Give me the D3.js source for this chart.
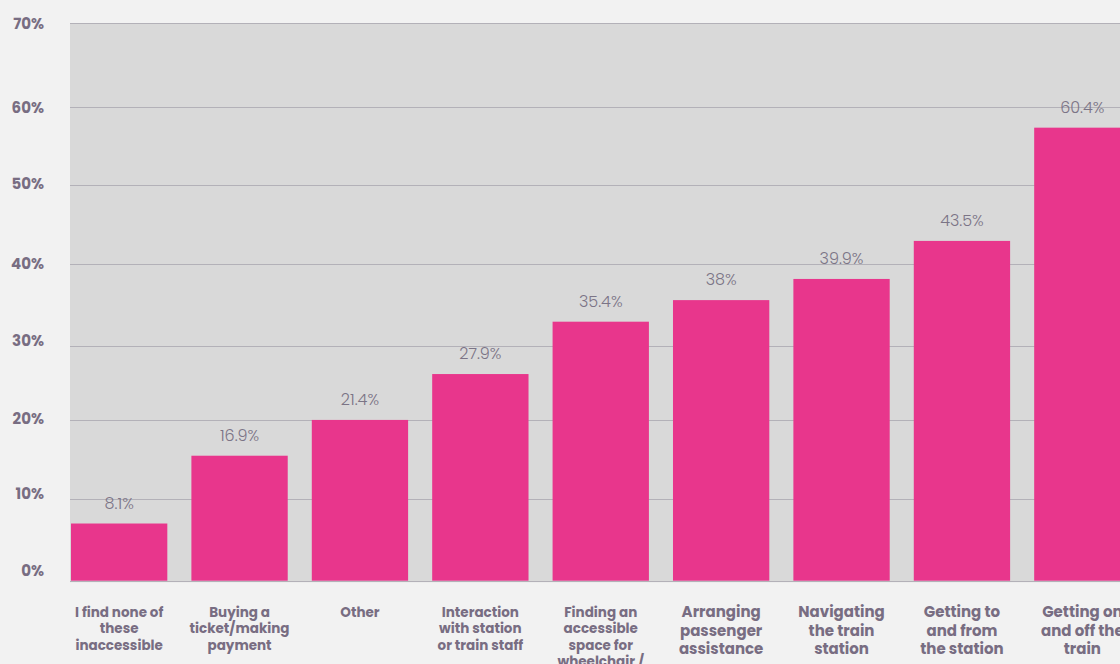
<!DOCTYPE html>
<html>
<head>
<meta charset="utf-8">
<script src="https://cdn.jsdelivr.net/npm/d3@7/dist/d3.min.js"></script>
<style>
  html, body { margin: 0; padding: 0; background: #f2f2f2; overflow: hidden; }
  svg { display: block; }
</style>
</head>
<body>
<svg id="chart" width="1120" height="664"></svg>
<script>
// ---- data ----
const categories = [
  "I find none of\nthese\ninaccessible",
  "Buying a\nticket/making\npayment",
  "Other",
  "Interaction\nwith station\nor train staff",
  "Finding an\naccessible\nspace for\nwheelchair /",
  "Arranging\npassenger\nassistance",
  "Navigating\nthe train\nstation",
  "Getting to\nand from\nthe station",
  "Getting on\nand off the\ntrain"
];
// bar heights as read against the gridlines of the picture
const barValues = [7.0, 15.5, 20.05, 26.2, 32.95, 35.6, 38.2, 42.95, 57.35];
// value labels printed above the bars
const valueLabels = ["8.1%", "16.9%", "21.4%", "27.9%", "35.4%", "38%", "39.9%", "43.5%", "60.4%"];
const yTicks = [0, 10, 20, 30, 40, 50, 60, 70];
const yTickLabels = ["0%", "10%", "20%", "30%", "40%", "50%", "60%", "70%"];

// ---- drawing ----
const svg = d3.select("#chart");
const W = 1120, H = 664;
const plotLeft = 70;

// the gridlines of the original are not evenly spaced: piecewise linear scale
const y = d3.scaleLinear().domain(yTicks)
  .range([580.7, 499, 420.3, 345.7, 264.3, 185, 107, 23]);
const yLab = d3.scaleLinear().domain(yTicks)
  .range([570, 493.7, 418.3, 340.5, 263.3, 183.3, 107.2, 23]);
const x = d3.scaleBand().domain(categories).range([71, 1130.5]).paddingInner(0.2).paddingOuter(0);

const font = "Poppins, 'Open Sans', sans-serif";
const textColor = "#786d82";

// plot background
svg.append("rect")
  .attr("x", plotLeft).attr("y", y(70))
  .attr("width", W - plotLeft + 20).attr("height", y(0) - y(70) + 1.5)
  .attr("fill", "#d9d9d9");

// gridlines
svg.append("g").selectAll("line").data(yTicks).join("line")
  .attr("x1", plotLeft).attr("x2", W + 20)
  .attr("y1", d => Math.round(y(d)) + 0.5).attr("y2", d => Math.round(y(d)) + 0.5)
  .attr("stroke", "#b3b1b8").attr("stroke-width", 1);

// y tick labels
svg.append("g").selectAll("text").data(yTicks).join("text")
  .attr("x", 44).attr("y", d => yLab(d))
  .attr("text-anchor", "end").attr("dominant-baseline", "central")
  .attr("font-family", font).attr("font-weight", 700).attr("font-size", 15)
  .attr("fill", textColor)
  .text((d, i) => yTickLabels[i]);

// bars
svg.append("g").selectAll("rect").data(categories).join("rect")
  .attr("x", d => x(d)).attr("width", x.bandwidth())
  .attr("y", (d, i) => y(barValues[i]))
  .attr("height", (d, i) => y(0) - y(barValues[i]))
  .attr("fill", "#e8368c");

// value labels
svg.append("g").selectAll("text").data(categories).join("text")
  .attr("x", d => x(d) + x.bandwidth() / 2)
  .attr("y", (d, i) => y(barValues[i]) - 15)
  .attr("text-anchor", "middle")
  .attr("font-family", font).attr("font-weight", 300).attr("font-size", 16)
  .attr("fill", "#7b7486")
  .text((d, i) => valueLabels[i]);

// x category labels
const xl = svg.append("g").selectAll("text").data(categories).join("text")
  .attr("x", d => x(d) + x.bandwidth() / 2)
  .attr("y", 617)
  .attr("text-anchor", "middle")
  .attr("font-family", font).attr("font-weight", 700)
  .attr("font-size", (d, i) => i < 5 ? 13.5 : 15)
  .attr("fill", textColor);
xl.each(function(d, i) {
  const lh = i < 5 ? 16.3 : 18.5;
  d3.select(this).selectAll("tspan").data(d.split("\n")).join("tspan")
    .attr("x", x(d) + x.bandwidth() / 2)
    .attr("dy", (t, j) => j === 0 ? 0 : lh)
    .text(t => t);
});
</script>
</body>
</html>
